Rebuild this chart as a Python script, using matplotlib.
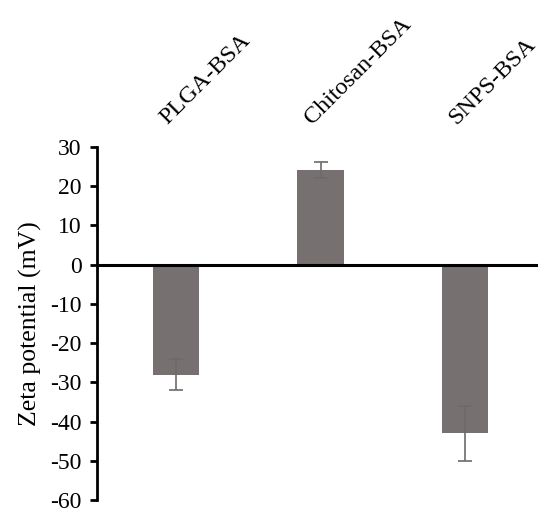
import matplotlib
matplotlib.use("Agg")
import matplotlib.pyplot as plt
import numpy as np

samples = ["PLGA-BSA", "Chitosan-BSA", "SNPS-BSA"]
zeta = [-28, 24, -43]
zeta_err = [4, 2, 7]
yticks = [30, 20, 10, 0, -10, -20, -30, -40, -50, -60]

plt.rcParams['font.family'] = ['Liberation Serif', 'DejaVu Serif']
plt.rcParams['axes.unicode_minus'] = False

fig = plt.figure(figsize=(5.56, 5.13), dpi=100)
ax = fig.add_axes([0.1745, 0.025, 0.793, 0.689])

x = np.arange(len(samples))
ax.bar(x, zeta, width=0.32, color='#767070', zorder=2)
ax.errorbar(x, zeta, yerr=zeta_err, fmt='none', ecolor='#6e6a6a',
            elinewidth=1.2, capsize=5, capthick=1.2, zorder=3)
ax.axhline(0, color='black', lw=2.2, zorder=4)

ax.set_xlim(-0.547, 2.505)
ax.set_ylim(-60, 30)
ax.set_yticks(yticks)
ax.set_yticklabels([str(t) for t in yticks], fontsize=17)
ax.set_xticks([])
ax.set_ylabel("Zeta potential (mV)", fontsize=18.5, labelpad=6)

for side in ['top', 'right', 'bottom']:
    ax.spines[side].set_visible(False)
ax.spines['left'].set_linewidth(2)
ax.tick_params(axis='y', direction='out', length=5, width=2, pad=6)

# sample names sit above the plot, slanted
for i, name in enumerate(samples):
    ax.text(i - 0.06, 35.5, name, rotation=45, rotation_mode='anchor',
            ha='left', va='baseline', fontsize=17.5, clip_on=False)

fig.savefig("out.png", dpi=100)
